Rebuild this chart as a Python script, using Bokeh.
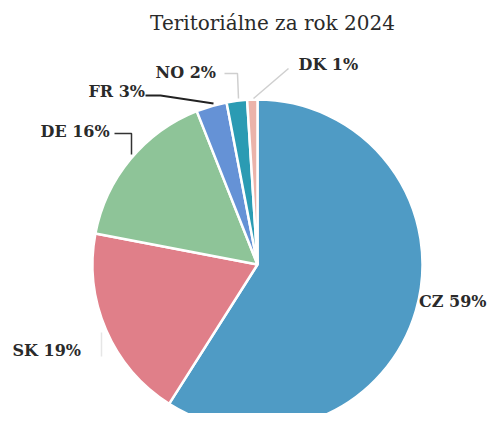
import math
from bokeh.plotting import figure
from bokeh.models import Range1d, ColumnDataSource
from bokeh.core.properties import value
from bokeh.embed import file_html
from bokeh.resources import INLINE

title_text = "Teritoriálne za rok 2024"
countries = ["CZ", "SK", "DE", "FR", "NO", "DK"]
shares = [59, 19, 16, 3, 2, 1]
colors = ["#4f9bc5", "#e07f89", "#8ec498", "#6592d6", "#2b9bb3", "#ebb3aa"]

W, H = 487, 413
def X(px): return px
def Y(py): return H - py

p = figure(width=W, height=H, x_range=Range1d(0, W), y_range=Range1d(0, H),
           output_backend="svg", toolbar_location=None, min_border=0)
p.axis.visible = False
p.grid.visible = False
p.outline_line_color = None
p.background_fill_color = "white"

cx, cy, r = X(257), Y(264), 165
total = sum(shares)
starts, ends = [], []
cum = 0
for v in shares:
    starts.append(math.pi / 2 - 2 * math.pi * cum / total)
    cum += v
    ends.append(math.pi / 2 - 2 * math.pi * cum / total)

src = ColumnDataSource(dict(start=starts, end=ends, color=colors, country=countries))
p.wedge(x=cx, y=cy, radius=r, start_angle="start", end_angle="end", direction="clock",
        fill_color="color", line_color="white", line_width=2.5, source=src)

# leader lines
p.line([X(145), X(160), X(213)], [Y(95), Y(95), Y(103)], line_color="#222222", line_width=2)
p.line([X(114), X(131), X(131)], [Y(133), Y(133), Y(154)], line_color="#333333", line_width=1.5)
p.line([X(224), X(237), X(238)], [Y(73), Y(73), Y(98)], line_color="#cfcfcf", line_width=1.5)
p.line([X(288), X(253)], [Y(68), Y(98)], line_color="#cfcfcf", line_width=1.5)
p.line([X(101), X(101)], [Y(332), Y(356)], line_color="#e6e6e6", line_width=1.5)

labels = [f"{c} {v}%" for c, v in zip(countries, shares)]
label_x = [X(486), X(12), X(40), X(88), X(155), X(298)]
label_y = [Y(301), Y(350), Y(131), Y(91), Y(72), Y(64)]
label_align = ["right", "left", "left", "left", "left", "left"]
lsrc = ColumnDataSource(dict(x=label_x, y=label_y, text=labels, align=label_align))
p.text(x="x", y="y", text="text", text_align="align", source=lsrc,
       text_font=value("DejaVu Serif"), text_font_style="bold", text_font_size="16px",
       text_color="#2a2a2a", text_baseline="middle")

p.text(x=[X(272)], y=[Y(22)], text=[title_text], text_font=value("DejaVu Serif"),
       text_font_size="20px", text_color="#2a2a2a", text_baseline="middle", text_align="center")

open("out.html", "w").write(file_html(p, INLINE))
